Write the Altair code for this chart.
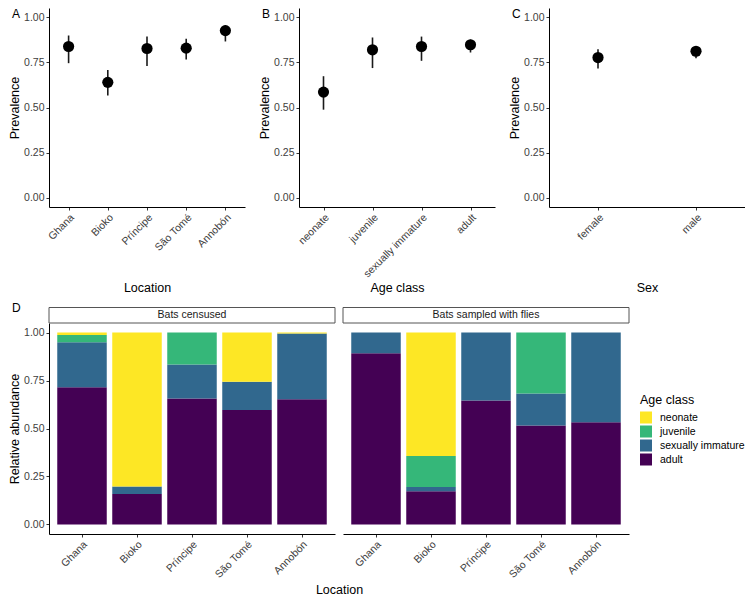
import altair as alt
import pandas as pd

# ---------------- data ----------------
loc_names = ["Ghana", "Bioko", "Príncipe", "São Tomé", "Annobón"]
loc_prev = [0.837, 0.639, 0.826, 0.828, 0.925]
loc_lo = [0.745, 0.566, 0.729, 0.765, 0.865]
loc_hi = [0.898, 0.707, 0.892, 0.880, 0.955]

age_names = ["neonate", "juvenile", "sexually immature", "adult"]
age_prev = [0.585, 0.819, 0.837, 0.847]
age_lo = [0.488, 0.718, 0.758, 0.804]
age_hi = [0.673, 0.887, 0.892, 0.875]

sex_names = ["female", "male"]
sex_prev = [0.776, 0.811]
sex_lo = [0.716, 0.772]
sex_hi = [0.822, 0.835]

census_adult = [0.715, 0.159, 0.656, 0.597, 0.653]
census_si = [0.235, 0.039, 0.178, 0.147, 0.342]
census_juv = [0.038, 0.0, 0.166, 0.0, 0.0]
census_neo = [0.012, 0.802, 0.0, 0.256, 0.005]

flies_adult = [0.892, 0.173, 0.646, 0.516, 0.532]
flies_si = [0.108, 0.022, 0.354, 0.166, 0.468]
flies_juv = [0.0, 0.161, 0.0, 0.318, 0.0]
flies_neo = [0.0, 0.644, 0.0, 0.0, 0.0]

strip_labels = ["Bats censused", "Bats sampled with flies"]
age_colors = ["#FDE725", "#35B779", "#31688E", "#440154"]
y_ticks = [0, 0.25, 0.5, 0.75, 1.0]

FONT = "Liberation Sans"
TOP_W, TOP_H = 196, 199
BOT_W, BOT_H = 286, 211
STRIP_H = 15.5


def yscale():
    return alt.Scale(domain=[-0.05, 1.05], nice=False, zero=False)


def letter_layer(letter, y):
    return alt.Chart(pd.DataFrame({"t": [letter]})).mark_text(
        align="left", baseline="middle", fontSize=12, font=FONT, color="black"
    ).encode(x=alt.value(-37), y=alt.value(y), text="t:N")


def prevalence_panel(names, prev, lo, hi, xtitle, letter):
    df = pd.DataFrame({"cat": names, "prev": prev, "lo": lo, "hi": hi})
    x = alt.X(
        "cat:N", sort=names, scale=alt.Scale(type="point", paddingOuter=0.6),
        axis=alt.Axis(title=xtitle, labelAngle=-45, titleY=80,
                      titleBaseline="middle", titleX=TOP_W / 2, titleAlign="center"),
    )
    base = alt.Chart(df).encode(x=x)
    rules = base.mark_rule(color="#1a1a1a", strokeWidth=1.6).encode(
        y=alt.Y("lo:Q", scale=yscale(),
                axis=alt.Axis(title="Prevalence", values=y_ticks, format=".2f")),
        y2="hi:Q",
    )
    pts = base.mark_circle(size=125, color="black", opacity=1).encode(y="prev:Q")
    return alt.layer(rules, pts, letter_layer(letter, 6)).properties(width=TOP_W, height=TOP_H)


def abundance_panel(adult, si, juv, neo, strip, left):
    rows = []
    for i, loc in enumerate(loc_names):
        for cls, vals, o in [("adult", adult, 0), ("sexually immature", si, 1),
                             ("juvenile", juv, 2), ("neonate", neo, 3)]:
            if vals[i] > 0:
                rows.append({"loc": loc, "cls": cls, "val": vals[i], "ord": o})
    df = pd.DataFrame(rows)
    if left:
        legend = None
        yaxis = alt.Axis(title="Relative abundance", values=y_ticks, format=".2f")
        xaxis = alt.Axis(title="Location", labelAngle=-45, titleY=55, titleBaseline="middle",
                         titleX=BOT_W + 4, titleAlign="center")
    else:
        legend = alt.Legend(title="Age class", orient="none", legendX=297, legendY=71,
                            symbolType="square", symbolSize=144, symbolStrokeWidth=0,
                            labelFontSize=10.5, labelFont=FONT, labelColor="black",
                            titleFontSize=12.5, titleFont=FONT, titleFontWeight="normal",
                            titleColor="black", rowPadding=2, labelOffset=8, titlePadding=5)
        yaxis = None
        xaxis = alt.Axis(title=None, labelAngle=-45)
    bars = alt.Chart(df).mark_bar().encode(
        x=alt.X("loc:N", sort=loc_names,
                scale=alt.Scale(paddingInner=0.1, paddingOuter=0.15), axis=xaxis),
        y=alt.Y("val:Q", stack="zero", scale=yscale(), axis=yaxis),
        color=alt.Color("cls:N", scale=alt.Scale(domain=age_names, range=age_colors),
                        legend=legend),
        order=alt.Order("ord:Q"),
    )
    sdf = pd.DataFrame({"t": [strip]})
    rect = alt.Chart(sdf).mark_rect(fill="white", stroke="#555555", strokeWidth=1).encode(
        x=alt.value(0), x2=alt.value(BOT_W), y=alt.value(-STRIP_H), y2=alt.value(0)
    )
    txt = alt.Chart(sdf).mark_text(fontSize=10.5, font=FONT, color="#1a1a1a",
                                   baseline="middle", align="center").encode(
        x=alt.value(BOT_W / 2), y=alt.value(-STRIP_H / 2), text="t:N"
    )
    layers = [bars, rect, txt]
    if left:
        layers.append(letter_layer("D", -15))
    return alt.layer(*layers).properties(width=BOT_W, height=BOT_H)


pa = prevalence_panel(loc_names, loc_prev, loc_lo, loc_hi, "Location", "A")
pb = prevalence_panel(age_names, age_prev, age_lo, age_hi, "Age class", "B")
pc = prevalence_panel(sex_names, sex_prev, sex_lo, sex_hi, "Sex", "C")

top = alt.hconcat(pa, pb, pc, spacing=54, bounds="flush")

d1 = abundance_panel(census_adult, census_si, census_juv, census_neo, strip_labels[0], True)
d2 = abundance_panel(flies_adult, flies_si, flies_juv, flies_neo, strip_labels[1], False)
bottom = alt.hconcat(d1, d2, spacing=8, bounds="flush").resolve_legend(color="independent")

chart = alt.vconcat(top, bottom, spacing=8).properties(
    padding=0
).configure_view(stroke=None).configure_axis(
    domainColor="black", domainWidth=1, tickColor="#333333", tickSize=3,
    labelColor="#3d3d3d", labelFontSize=10.5, labelFont=FONT,
    titleFont=FONT, titleFontSize=12.5, titleFontWeight="normal", titleColor="black",
    grid=False, labelPadding=2, titlePadding=2,
)

chart.save("out.html", embed_options={"renderer": "svg", "actions": False})
